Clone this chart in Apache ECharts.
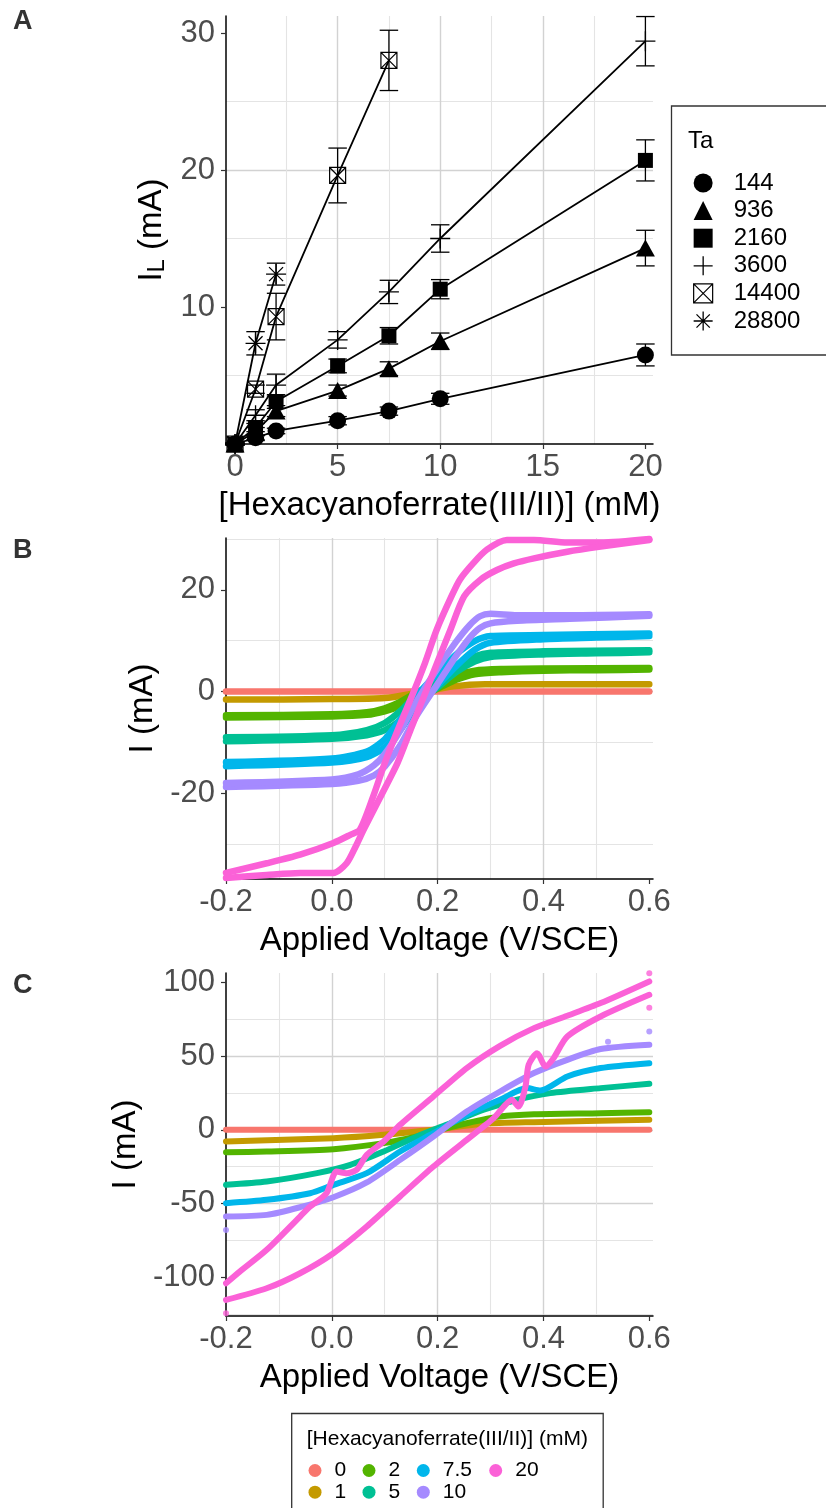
<!DOCTYPE html>
<html><head><meta charset="utf-8">
<script src="https://cdn.jsdelivr.net/npm/echarts@6/dist/echarts.min.js"></script>
<style>html,body{margin:0;padding:0;background:#fff}#c{width:826px;height:1508px}</style>
</head><body><div id="c"></div>
<script>
// ---------------- Panel A data ----------------
const concA = [0, 1, 2, 5, 7.5, 10, 20];
const taLevels = ['144', '936', '2160', '3600', '14400', '28800'];
const IL_144 = [0, 0.45, 0.95, 1.7, 2.4, 3.3, 6.5];
const SD_144 = [0.1, 0.2, 0.2, 0.3, 0.3, 0.4, 0.8];
const IL_936 = [0, 0.9, 2.4, 3.9, 5.5, 7.5, 14.3];
const SD_936 = [0.1, 0.3, 0.4, 0.4, 0.5, 0.6, 1.3];
const IL_2160 = [0, 1.2, 3.1, 5.7, 7.9, 11.3, 20.7];
const SD_2160 = [0.1, 0.3, 0.5, 0.5, 0.6, 0.7, 1.5];
const IL_3600 = [0, 2.1, 4.3, 7.6, 11.1, 15.0, 29.4];
const SD_3600 = [0.1, 0.4, 0.8, 0.6, 0.85, 1.0, 1.8];
const IL_14400 = [0, 4.0, 9.3, 19.6, 28.0];
const SD_14400 = [0.1, 0.3, 1.7, 2.0, 2.2];
const IL_28800 = [0, 7.35, 12.4];
const SD_28800 = [0.1, 0.85, 0.8];

// ---------------- Panel B data ([V, I]) ----------------
const concLevels = ['0', '1', '2', '5', '7.5', '10', '20'];
const B_0 = [[-0.2, 0.0], [0.6, 0.0]];
const B_1 = [[-0.2, -1.6], [0.0, -1.5], [0.1, -1.3], [0.16, -0.3], [0.23, 1.0], [0.29, 1.4], [0.6, 1.4]];
const B_2_lo = [[-0.2, -5.1], [0.0, -4.9], [0.066, -4.6], [0.1, -3.9], [0.13, -2.8], [0.16, -1.2], [0.2, 0.6], [0.235, 2.3], [0.27, 3.4], [0.32, 3.8], [0.4, 4.1], [0.5, 4.2], [0.6, 4.3]];
const B_2_up = [[-0.2, -4.7], [0.0, -4.5], [0.066, -4.1], [0.1, -3.3], [0.13, -2.0], [0.16, -0.2], [0.2, 1.6], [0.235, 3.2], [0.27, 4.1], [0.32, 4.4], [0.4, 4.5], [0.6, 4.6]];
const B_5_lo = [[-0.2, -9.8], [0.0, -9.3], [0.066, -8.6], [0.1, -7.6], [0.13, -5.6], [0.16, -2.5], [0.2, 0.8], [0.235, 3.8], [0.27, 5.9], [0.3, 6.8], [0.4, 7.3], [0.5, 7.5], [0.6, 7.7]];
const B_5_up = [[-0.2, -9.0], [0.0, -8.6], [0.066, -7.6], [0.1, -6.2], [0.13, -3.8], [0.16, -0.6], [0.2, 2.6], [0.235, 5.2], [0.27, 6.9], [0.3, 7.6], [0.4, 7.9], [0.6, 8.1]];
const B_75_lo = [[-0.2, -14.7], [0.0, -14.0], [0.066, -12.9], [0.1, -11.0], [0.13, -7.5], [0.16, -3.0], [0.2, 1.2], [0.235, 5.0], [0.27, 8.2], [0.3, 9.6], [0.4, 10.3], [0.5, 10.6], [0.6, 10.9]];
const B_75_up = [[-0.2, -13.9], [0.0, -13.2], [0.066, -11.8], [0.1, -9.4], [0.13, -5.4], [0.16, -0.8], [0.2, 3.6], [0.235, 7.3], [0.27, 9.9], [0.3, 10.9], [0.4, 11.1], [0.6, 11.4]];
const B_10_lo = [[-0.2, -18.8], [0.0, -18.2], [0.05, -17.6], [0.08, -16.5], [0.1, -14.8], [0.13, -10.5], [0.16, -4.8], [0.2, 1.5], [0.235, 7.0], [0.26, 10.5], [0.28, 12.5], [0.3, 13.4], [0.35, 13.9], [0.45, 14.3], [0.6, 14.9]];
const B_10_up = [[-0.2, -18.0], [0.0, -17.3], [0.05, -16.3], [0.08, -14.5], [0.1, -12.3], [0.13, -7.6], [0.16, -2.0], [0.2, 4.6], [0.235, 9.8], [0.26, 13.0], [0.28, 14.8], [0.3, 15.3], [0.35, 15.0], [0.45, 15.0], [0.6, 15.2]];
const B_20_left = [[-0.2, -35.7], [-0.123, -33.8], [-0.06, -32.1], [0.003, -29.8], [0.035, -28.2], [0.053, -27.2], [0.078, -20.7], [0.1, -14.1], [0.125, -7.5], [0.151, -1.0], [0.176, 5.6], [0.198, 12.1], [0.226, 18.7], [0.242, 22.0], [0.267, 25.2], [0.293, 27.9], [0.331, 29.8], [0.382, 29.8], [0.445, 29.3], [0.508, 29.3], [0.6, 30.0]];
const B_20_right = [[-0.2, -36.7], [-0.123, -36.1], [-0.06, -35.7], [0.003, -35.7], [0.028, -33.8], [0.045, -30.5], [0.06, -27.2], [0.092, -20.7], [0.124, -14.1], [0.149, -7.5], [0.174, -1.0], [0.199, 5.6], [0.224, 12.1], [0.25, 18.7], [0.281, 22.0], [0.312, 23.9], [0.344, 25.2], [0.382, 26.2], [0.445, 27.5], [0.508, 28.5], [0.6, 29.8]];

// ---------------- Panel C data ([V, I]) ----------------
const C_0 = [[-0.2, 0.0], [0.6, 0.0]];
const C_1 = [[-0.2, -7.9], [0.003, -5.7], [0.098, -3.4], [0.192, 0.0], [0.287, 4.1], [0.382, 5.2], [0.6, 6.8]];
const C_2 = [[-0.2, -15.2], [-0.123, -14.7], [0.003, -13.1], [0.098, -9.0], [0.161, -4.5], [0.192, -1.1], [0.255, 4.5], [0.318, 9.0], [0.382, 10.6], [0.508, 11.3], [0.6, 12.0]];
const C_5 = [[-0.2, -37.3], [-0.123, -35.1], [-0.028, -29.4], [0.035, -23.8], [0.098, -14.7], [0.161, -4.5], [0.224, 4.5], [0.287, 13.6], [0.35, 20.4], [0.413, 24.9], [0.508, 28.3], [0.6, 31.2]];
const C_75 = [[-0.2, -49.8], [-0.123, -47.5], [-0.041, -43.0], [0.003, -37.3], [0.066, -29.4], [0.129, -14.7], [0.192, -2.3], [0.255, 10.2], [0.318, 20.4], [0.369, 28.3], [0.394, 26.7], [0.445, 36.2], [0.508, 41.9], [0.6, 45.2]];
const C_10 = [[-0.2, -58.8], [-0.123, -57.7], [-0.06, -52.5], [0.003, -45.7], [0.066, -35.7], [0.129, -20.4], [0.192, -4.5], [0.255, 12.4], [0.318, 26.0], [0.382, 38.5], [0.445, 47.5], [0.508, 54.8], [0.6, 57.7]];
const C_20_up = [[0.6, 100.7], [0.508, 86.0], [0.445, 77.4], [0.382, 69.0], [0.318, 57.0], [0.255, 41.9], [0.192, 22.6], [0.129, 3.4], [0.098, -7.9], [0.066, -17.0], [0.047, -27.1], [0.028, -29.4], [0.009, -28.3], [-0.01, -43.0], [-0.041, -52.0], [-0.06, -58.8], [-0.123, -81.4], [-0.174, -96.2], [-0.2, -104.1]];
const C_20_lo = [[-0.2, -115.4], [-0.123, -107.5], [-0.06, -97.3], [0.003, -83.7], [0.066, -65.6], [0.129, -45.2], [0.192, -24.9], [0.255, -6.8], [0.287, 2.3], [0.306, 7.9], [0.325, 15.8], [0.34, 20.4], [0.353, 15.8], [0.366, 29.4], [0.372, 44.1], [0.388, 52.0], [0.404, 43.0], [0.419, 48.6], [0.445, 63.3], [0.508, 76.9], [0.6, 91.6]];
const C_10_pts = [[0.6, 66.7], [0.522, 59.7], [-0.2, -67.9]];
const C_20_pts = [[0.6, 106.3], [0.6, 82.8], [-0.2, -124.4]];

// ---------------- Tick values ----------------
const ticksAx = [0, 5, 10, 15, 20];
const ticksAy = [10, 20, 30];
const ticksV = [-0.2, 0.0, 0.2, 0.4, 0.6];
const ticksBy = [-20, 0, 20];
const ticksCy = [-100, -50, 0, 50, 100];

// ---------------- Styles ----------------
const FONT = "'Liberation Sans', Arial, Helvetica, sans-serif";
const COL = {'0': '#F8766D', '1': '#C49A00', '2': '#53B400', '5': '#00C094', '7.5': '#00B6EB', '10': '#A58AFF', '20': '#FB61D7'};
const SYM = {
  '144':   {symbol: 'circle', size: 17, fill: '#000', bw: 0},
  '936':   {symbol: 'triangle', size: [19, 17], fill: '#000', bw: 0},
  '2160':  {symbol: 'rect', size: 15, fill: '#000', bw: 0},
  '3600':  {symbol: 'path://M0,10L20,10M10,0L10,20', size: 20, fill: 'rgba(0,0,0,0)', bw: 1.3},
  '14400': {symbol: 'path://M0,0L16,0L16,16L0,16ZM0,0L16,16M16,0L0,16', size: 16, fill: 'rgba(0,0,0,0)', bw: 1.2},
  '28800': {symbol: 'path://M10,0L10,20M0,10L20,10M3,3L17,17M17,3L3,17', size: 20, fill: 'rgba(0,0,0,0)', bw: 1.3}
};

const A_VALUES = {'144': [IL_144, SD_144], '936': [IL_936, SD_936], '2160': [IL_2160, SD_2160], '3600': [IL_3600, SD_3600], '14400': [IL_14400, SD_14400], '28800': [IL_28800, SD_28800]};
const B_SETS = {'0': [B_0], '1': [B_1], '2': [B_2_lo, B_2_up], '5': [B_5_lo, B_5_up], '7.5': [B_75_lo, B_75_up], '10': [B_10_lo, B_10_up], '20': [B_20_left, B_20_right]};
const C_SETS = {'0': [C_0], '1': [C_1], '2': [C_2], '5': [C_5], '7.5': [C_75], '10': [C_10], '20': [C_20_up, C_20_lo]};
const C_PTS = {'10': C_10_pts, '20': C_20_pts};

function fmt(step, dec, hideZero) {
  return function (v) {
    const k = v / step;
    if (Math.abs(k - Math.round(k)) > 1e-6) return '';
    const r = Math.round(k) * step;
    if (hideZero && Math.abs(r) < 1e-9) return '';
    return dec ? r.toFixed(dec) : String(Math.round(r));
  };
}

const MAJOR = {color: '#D2D2D2', width: 1.4};
const MINOR = {color: '#E4E4E4', width: 1.1};

function xAxisCfg(gi, min, max, step, ticks, dec, name) {
  return {
    type: 'value', gridIndex: gi, min: min, max: max, minInterval: step, maxInterval: step,
    name: name, nameLocation: 'middle', nameGap: 44,
    nameTextStyle: {fontSize: 33, color: '#000', fontFamily: FONT, lineHeight: 36},
    axisLine: {show: true, onZero: false, lineStyle: {color: '#000', width: 1.5}},
    axisTick: {show: true, length: 5, inside: false, customValues: ticks, lineStyle: {color: '#333', width: 1.2}},
    axisLabel: {show: true, customValues: ticks, margin: 8, fontSize: 31, lineHeight: 31, color: '#4D4D4D', fontFamily: FONT, formatter: fmt(step, dec, false)},
    splitLine: {show: true, showMinLine: false, showMaxLine: false, lineStyle: MAJOR},
    minorTick: {show: false, splitNumber: 2},
    minorSplitLine: {show: true, lineStyle: MINOR}
  };
}
function yAxisCfg(gi, min, max, step, ticks, hideZero, name, gap, rich) {
  const ts = {fontSize: 33, color: '#000', fontFamily: FONT};
  if (rich) ts.rich = rich;
  return {
    type: 'value', gridIndex: gi, min: min, max: max, minInterval: step, maxInterval: step,
    name: name, nameLocation: 'middle', nameGap: gap, nameRotate: 90,
    nameTextStyle: ts,
    axisLine: {show: true, onZero: false, lineStyle: {color: '#000', width: 1.5}},
    axisTick: {show: true, length: 5, inside: false, customValues: ticks, lineStyle: {color: '#333', width: 1.2}},
    axisLabel: {show: true, customValues: ticks, margin: 11, fontSize: 31, color: '#4D4D4D', fontFamily: FONT, formatter: fmt(step, 0, hideZero)},
    splitLine: {show: true, showMinLine: false, showMaxLine: false, lineStyle: MAJOR},
    minorTick: {show: false, splitNumber: 2},
    minorSplitLine: {show: true, lineStyle: MINOR}
  };
}

const series = [];
// Panel A: error bars, then lines+points
taLevels.forEach(function (ta) {
  const vals = A_VALUES[ta][0], sds = A_VALUES[ta][1];
  series.push({
    type: 'custom', name: 'err' + ta, xAxisIndex: 0, yAxisIndex: 0, z: 4, silent: true,
    data: vals.map(function (v, i) { return [concA[i], v - sds[i], v + sds[i]]; }),
    renderItem: function (params, api) {
      const x = api.value(0);
      const p1 = api.coord([x, api.value(1)]);
      const p2 = api.coord([x, api.value(2)]);
      const hw = api.size([0.45, 0])[0];
      const st = {stroke: '#000', lineWidth: 1.3, fill: null};
      return {type: 'group', children: [
        {type: 'line', shape: {x1: p1[0], y1: p1[1], x2: p2[0], y2: p2[1]}, style: st},
        {type: 'line', shape: {x1: p1[0] - hw, y1: p1[1], x2: p1[0] + hw, y2: p1[1]}, style: st},
        {type: 'line', shape: {x1: p2[0] - hw, y1: p2[1], x2: p2[0] + hw, y2: p2[1]}, style: st}
      ]};
    }
  });
});
taLevels.forEach(function (ta) {
  const vals = A_VALUES[ta][0];
  const s = SYM[ta];
  series.push({
    type: 'line', name: ta, xAxisIndex: 0, yAxisIndex: 0, z: 3,
    data: vals.map(function (v, i) { return [concA[i], v]; }),
    symbol: s.symbol, symbolSize: s.size, symbolKeepAspect: true, showSymbol: true, showAllSymbol: true,
    lineStyle: {color: '#000', width: 1.8},
    itemStyle: {color: s.fill, borderColor: '#000', borderWidth: s.bw, opacity: 1},
    emphasis: {disabled: true}, silent: true, clip: false
  });
});
// Panels B and C
function addCurves(sets, gi, width) {
  concLevels.forEach(function (c) {
    sets[c].forEach(function (arr) {
      series.push({
        type: 'line', name: c, xAxisIndex: gi, yAxisIndex: gi, data: arr,
        symbol: 'none', showSymbol: false, smooth: 0.25, clip: true,
        lineStyle: {color: COL[c], width: width, cap: 'round', join: 'round'},
        itemStyle: {color: COL[c]}, emphasis: {disabled: true}, silent: true
      });
    });
  });
}
addCurves(B_SETS, 1, 6.5);
addCurves(C_SETS, 2, 6);
Object.keys(C_PTS).forEach(function (c) {
  series.push({
    type: 'scatter', name: c, xAxisIndex: 2, yAxisIndex: 2, data: C_PTS[c], symbol: 'circle', symbolSize: 6,
    itemStyle: {color: COL[c]}, emphasis: {disabled: true}, silent: true
  });
});

function pathIconStyle(ta) {
  const s = SYM[ta];
  return {color: s.fill, borderColor: '#000', borderWidth: s.bw};
}
const legendBase = {orient: 'vertical', padding: 0, selectedMode: false, itemWidth: 13, itemHeight: 13, itemGap: 0.7,
  textStyle: {fontSize: 21, lineHeight: 20, color: '#000', fontFamily: FONT, padding: [0, 0, 0, 8]}};
function concLegend(names, left) {
  return Object.assign({}, legendBase, {left: left, top: 1460, data: names.map(function (n) { return {name: n, icon: 'circle'}; })});
}

const option = {
  animation: false,
  backgroundColor: '#fff',
  textStyle: {fontFamily: FONT},
  grid: [
    {left: 226, top: 16, width: 427, height: 428, outerBoundsMode: 'none', containLabel: false},
    {left: 226, top: 538, width: 427, height: 341, outerBoundsMode: 'none', containLabel: false},
    {left: 226, top: 973, width: 427, height: 343, outerBoundsMode: 'none', containLabel: false}
  ],
  xAxis: [
    xAxisCfg(0, -0.44, 20.37, 5, ticksAx, 0, '[Hexacyanoferrate(III/II)] (mM)'),
    xAxisCfg(1, -0.2, 0.607, 0.2, ticksV, 1, 'Applied Voltage (V/SCE)'),
    xAxisCfg(2, -0.2, 0.607, 0.2, ticksV, 1, 'Applied Voltage (V/SCE)')
  ],
  yAxis: [
    yAxisCfg(0, 0, 31.24, 10, ticksAy, true, '{a|I}{s|L}{a| (mA)}', 48, {
      a: {fontSize: 33, color: '#000', fontFamily: FONT, lineHeight: 36},
      s: {fontSize: 24, color: '#000', fontFamily: FONT, lineHeight: 24, verticalAlign: 'bottom'}
    }),
    yAxisCfg(1, -36.9, 30.2, 20, ticksBy, false, 'I (mA)', 52, null),
    yAxisCfg(2, -126.3, 106.4, 50, ticksCy, false, 'I (mA)', 77, null)
  ],
  legend: [
    Object.assign({}, legendBase, {
      left: 693, top: 171, itemWidth: 19, itemHeight: 19, itemGap: 3.6,
      textStyle: {fontSize: 24, lineHeight: 24, color: '#000', fontFamily: FONT, padding: [0, 0, 0, 16]},
      data: taLevels.map(function (ta) { return {name: ta, icon: SYM[ta].symbol, itemStyle: pathIconStyle(ta)}; })
    }),
    concLegend(['0', '1'], 308.5),
    concLegend(['2', '5'], 362.5),
    concLegend(['7.5', '10'], 416.8),
    concLegend(['20'], 489.2)
  ],
  graphic: [
    {type: 'text', left: 13, top: 8, style: {text: 'A', font: 'bold 27px ' + FONT, fill: '#333'}},
    {type: 'text', left: 13, top: 537, style: {text: 'B', font: 'bold 27px ' + FONT, fill: '#333'}},
    {type: 'text', left: 13, top: 972, style: {text: 'C', font: 'bold 27px ' + FONT, fill: '#333'}},
    {type: 'rect', shape: {x: 671.5, y: 106, width: 200, height: 249}, style: {fill: 'none', stroke: '#333', lineWidth: 1.3}, z: 0},
    {type: 'text', left: 688, top: 129, style: {text: 'Ta', font: '24px ' + FONT, fill: '#000'}},
    {type: 'rect', shape: {x: 291.7, y: 1413.5, width: 311.5, height: 120}, style: {fill: 'none', stroke: '#333', lineWidth: 1.3}, z: 0},
    {type: 'text', left: 306.7, top: 1429, style: {text: '[Hexacyanoferrate(III/II)] (mM)', font: '21px ' + FONT, fill: '#000'}}
  ],
  series: series
};

const chart = echarts.init(document.getElementById('c'), null, {renderer: 'canvas', width: 826, height: 1508});
chart.setOption(option);
</script>
</body></html>
